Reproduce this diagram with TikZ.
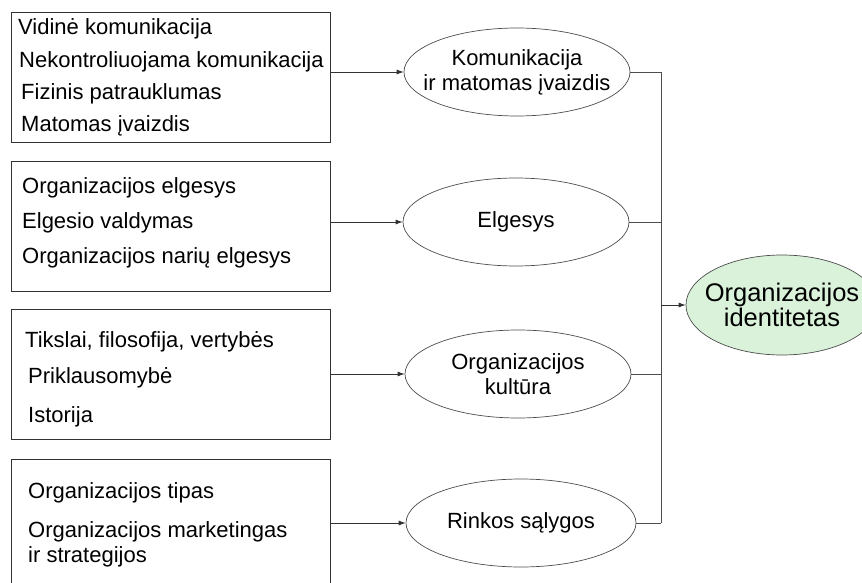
\documentclass[tikz,border=0pt]{standalone}
\usepackage{fontspec}
\setmainfont{Liberation Sans}
\usetikzlibrary{shapes.geometric, arrows.meta}
\definecolor{idgreen}{RGB}{218,242,218}

\begin{document}
\begin{tikzpicture}[x=1pt, y=-1pt,
  box/.style={draw=black!80, line width=0.8pt, minimum width=319pt, minimum height=130pt, inner sep=0pt},
  item/.style={anchor=west, inner sep=0pt, font=\fontsize{22}{26}\selectfont},
  oval/.style={ellipse, draw=black!70, line width=0.7pt, minimum width=226pt, minimum height=88pt, inner xsep=-16pt, inner ysep=0pt, align=center, font=\fontsize{22}{25}\selectfont},
  arr/.style={-{Latex[length=7pt, width=5pt]}, line width=0.7pt, draw=black!80},
  link/.style={line width=0.7pt, draw=black!70}]
\useasboundingbox (0,0) rectangle (862,583);
\node[box] (kbox) at (170.5, 77) {};
\node[box] (ebox) at (170.5, 226.5) {};
\node[box] (cbox) at (170.5, 374) {};
\node[box] (rbox) at (170.5, 524) {};
\node[item] (k1) at (18, 29) {Vidinė komunikacija};
\node[item] (k2) at (19, 62) {Nekontroliuojama komunikacija};
\node[item] (k3) at (21, 94) {Fizinis patrauklumas};
\node[item] (k4) at (21, 126) {Matomas įvaizdis};
\node[item] (e1) at (22, 188) {Organizacijos elgesys};
\node[item] (e2) at (22, 223) {Elgesio valdymas};
\node[item] (e3) at (22, 258) {Organizacijos narių elgesys};
\node[item] (c1) at (25, 342) {Tikslai, filosofija, vertybės};
\node[item] (c2) at (28, 378) {Priklausomybė};
\node[item] (c3) at (28, 417) {Istorija};
\node[item] (r1) at (28, 493) {Organizacijos tipas};
\node[item] (r2) at (28, 532) {Organizacijos marketingas};
\node[item] (r3) at (28, 557) {ir strategijos};
\node[oval] (komun) at (517, 72) {Komunikacija\\ir matomas įvaizdis};
\node[oval] (elg) at (516, 222) {Elgesys};
\node[oval] (kult) at (518, 374) {Organizacijos\\kultūra};
\node[oval, minimum width=230pt] (rink) at (521, 523) {Rinkos sąlygos};
\node[ellipse, draw=black!70, fill=idgreen, line width=0.7pt, minimum width=192pt, minimum height=100pt, inner xsep=-14pt, inner ysep=0pt, align=center, font=\fontsize{25.5}{25}\selectfont] (ident) at (782, 305) {Organizacijos\\identitetas};
\coordinate (bus) at (661, 305);
\draw[arr] (kbox.east |- komun) -- (komun.west);
\draw[arr] (ebox.east |- elg) -- (elg.west);
\draw[arr] (cbox.east |- kult) -- (kult.west);
\draw[arr] (rbox.east |- rink) -- (rink.west);
\draw[link] (komun.east) -- (komun.east -| bus);
\draw[link] (elg.east) -- (elg.east -| bus);
\draw[link] (kult.east) -- (kult.east -| bus);
\draw[link] (rink.east) -- (rink.east -| bus);
\draw[link] (komun.east -| bus) -- (rink.east -| bus);
\draw[arr] (bus) -- (ident.west);
\end{tikzpicture}
\end{document}
